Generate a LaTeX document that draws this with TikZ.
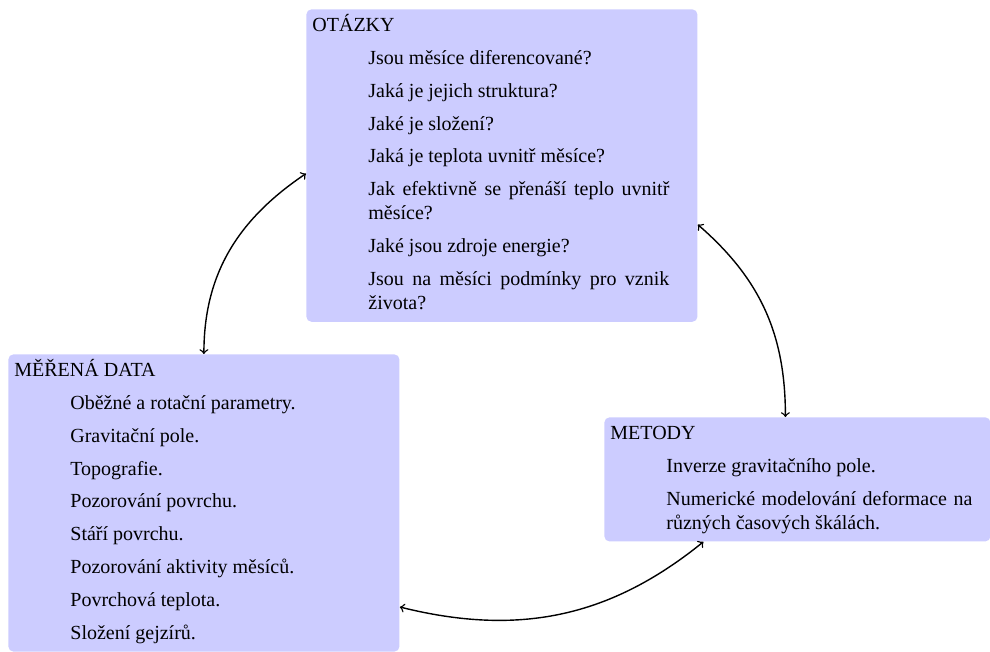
\documentclass[tikz,border=0pt]{standalone}
\usepackage{fontspec}
\IfFontExistsTF{LiberationSerif-Regular.ttf}{%
  \setmainfont{LiberationSerif}[Extension=.ttf, UprightFont=*-Regular, BoldFont=*-Bold, ItalicFont=*-Italic, BoldItalicFont=*-BoldItalic]}{%
  \setmainfont{Liberation Serif}}
\tikzset{
  panel/.style={fill=blue!20, rounded corners=2.5pt, inner xsep=3pt, inner ysep=2.6pt,
    anchor=north west, align=justify, font=\rmfamily\fontsize{10}{12}\selectfont},
  link/.style={<->, line width=0.7pt},
}
\newcommand{\itemsfmt}[1]{\leftskip=28pt \rightskip=#1 \parskip=4.4pt \parindent=0pt}
\begin{document}
\begin{tikzpicture}[x=0.5pt, y=-0.5pt]
\useasboundingbox (0,0) rectangle (990,652);

\node[panel, text width=189.5pt] (ot) at (306,9) {\parindent=0pt\strut OTÁZKY\par
  \itemsfmt{11pt}
  Jsou měsíce diferencované?\par
  Jaká je jejich struktura?\par
  Jaké je složení?\par
  Jaká je teplota uvnitř měsíce?\par
  Jak efektivně se přenáší teplo uvnitř měsíce?\par
  Jaké jsou zdroje energie?\par
  Jsou na měsíci podmínky pro vznik života?\strut\par};

\node[panel, text width=189.5pt] (md) at (8,354) {\parindent=0pt\strut MĚŘENÁ DATA\par
  \itemsfmt{8.5pt}
  Oběžné a rotační parametry.\par
  Gravitační pole.\par
  Topografie.\par
  Pozorování povrchu.\par
  Stáří povrchu.\par
  Pozorování aktivity měsíců.\par
  Povrchová teplota.\par
  Složení gejzírů.\strut\par};

\node[panel, text width=187pt] (mt) at (604,417) {\parindent=0pt\strut METODY\par
  \itemsfmt{6pt}
  Inverze gravitačního pole.\par
  Numerické modelování deformace na různých časových škálách.\strut\par};

\draw[link] (md.north) to[out=90, in=214] ([yshift=-4pt]ot.west);
\draw[link] ([yshift=-29.5pt]ot.east) to[out=-41, in=90] ([xshift=-6pt]mt.north);
\draw[link] ([xshift=-47pt]mt.south) to[out=219, in=-14] ([yshift=-52pt]md.east);
\end{tikzpicture}
\end{document}
